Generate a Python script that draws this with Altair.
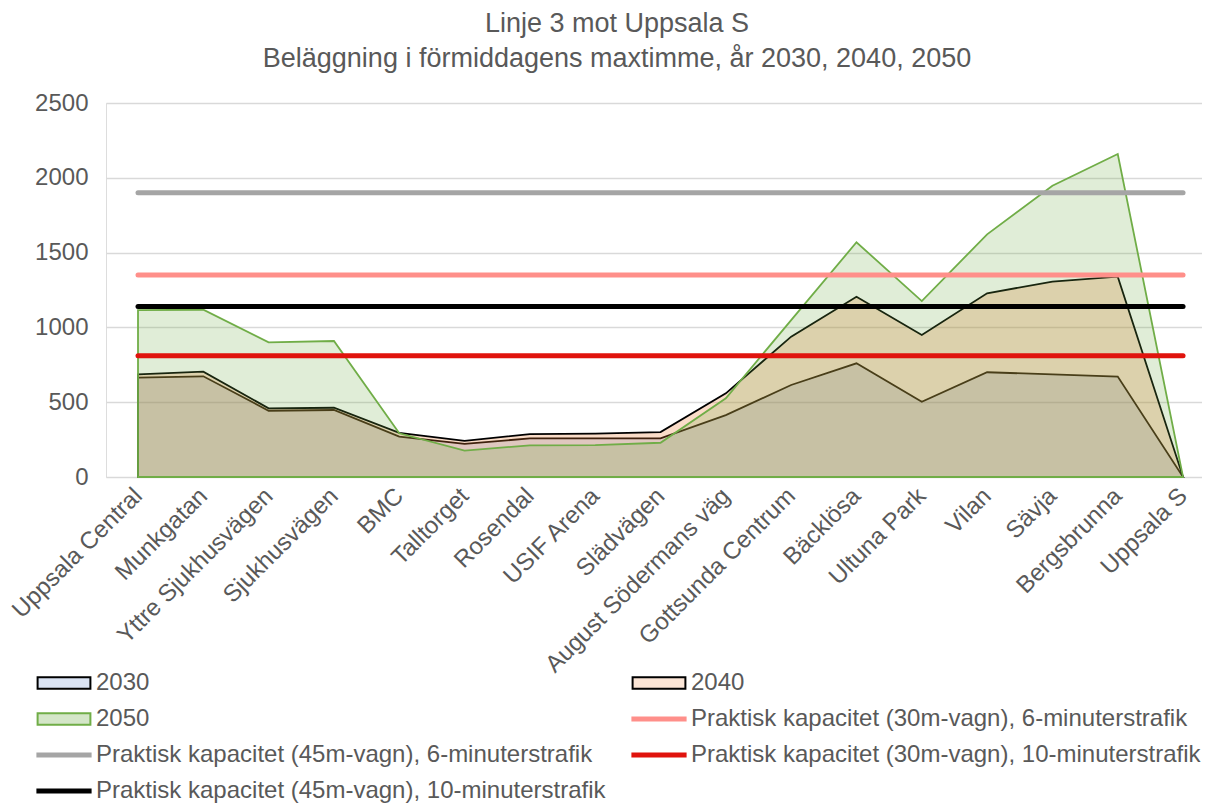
import json
import altair as alt
import pandas as pd

stops = ["Uppsala Central", "Munkgatan", "Yttre Sjukhusvägen", "Sjukhusvägen", "BMC",
         "Talltorget", "Rosendal", "USIF Arena", "Slädvägen", "August Södermans väg",
         "Gottsunda Centrum", "Bäcklösa", "Ultuna Park", "Vilan", "Sävja", "Bergsbrunna",
         "Uppsala S"]
years = ["2030", "2040", "2050"]
v2030 = [664, 673, 443, 448, 270, 221, 258, 258, 258, 414, 615, 760, 503, 700, 686, 671, 0]
v2040 = [686, 704, 459, 463, 295, 241, 287, 290, 300, 559, 938, 1205, 949, 1228, 1306, 1339, 0]
v2050 = [1115, 1118, 900, 909, 292, 176, 212, 213, 229, 526, 1049, 1569, 1176, 1622, 1947, 2159, 0]

cap_names = ["Praktisk kapacitet (30m-vagn), 6-minuterstrafik",
             "Praktisk kapacitet (45m-vagn), 6-minuterstrafik",
             "Praktisk kapacitet (30m-vagn), 10-minuterstrafik",
             "Praktisk kapacitet (45m-vagn), 10-minuterstrafik"]
cap_values = [1350, 1900, 810, 1140]

y_ticks = [0, 500, 1000, 1500, 2000, 2500]

rows = []
for year, vals in zip(years, [v2030, v2040, v2050]):
    for i, v in enumerate(vals):
        rows.append({"idx": i, "stop": stops[i], "series": year, "value": v})
area_df = pd.DataFrame(rows)
cap_df = pd.DataFrame({"series": cap_names, "value": cap_values,
                       "start": [0] * len(cap_names), "end": [len(stops) - 1] * len(cap_names)})

# legend is filled column by column: column 1 then column 2
domain = ["2030", "2050", cap_names[1], cap_names[3], "2040", cap_names[0], cap_names[2]]
style = {
    "2030": ("#4472C4", "#000000", 0.2),
    "2040": ("#ED7D31", "#000000", 0.2),
    "2050": ("#70AD47", "#70AD47", 0.3),
    cap_names[0]: ("#FFFFFF", "#FF8F8A", 0.0),
    cap_names[1]: ("#FFFFFF", "#A5A5A5", 0.0),
    cap_names[2]: ("#FFFFFF", "#E0130D", 0.0),
    cap_names[3]: ("#FFFFFF", "#000000", 0.0),
}


def over_white(hex_color, alpha):
    h = hex_color.lstrip("#")
    rgb = [int(h[i:i + 2], 16) for i in (0, 2, 4)]
    out = [round(255 + alpha * (c - 255)) for c in rgb]
    return "#" + "".join(f"{c:02X}" for c in out)


area_fill_range = [style[d][0] for d in domain]
stroke_range = [style[d][1] for d in domain]
opacity_range = [style[d][2] for d in domain]
swatch_range = [over_white(style[d][0], style[d][2]) if d in years else "transparent"
                for d in domain]

FONT = "Liberation Sans"
GREY = "#595959"

xscale = alt.Scale(domain=[-0.49, 16.29], nice=False, zero=False)
yscale = alt.Scale(domain=[0, 2500], nice=False)
label_expr = json.dumps(stops) + "[datum.value]"
xaxis = alt.Axis(values=list(range(len(stops))), labelExpr=label_expr, labelAngle=-45,
                 labelAlign="right", labelBaseline="middle",
                 grid=False, ticks=False, domain=False, title=None, labelFontSize=24,
                 labelColor=GREY, labelFont=FONT, labelPadding=15, labelOverlap=False,
                 labelFlush=False, labelLimit=1000)
yaxis = alt.Axis(values=y_ticks, format="d", grid=True, gridColor="#D9D9D9", gridWidth=1.3,
                 domain=False, ticks=False, title=None, labelFontSize=24, labelColor=GREY,
                 labelFont=FONT, labelPadding=18)

is_area = "indexof(" + json.dumps(years) + ", datum.value) >= 0"
legend = alt.Legend(
    title=None, orient="none", legendX=-54, legendY=568, columns=2, columnPadding=15,
    rowPadding=12, padding=0, symbolSize=576, labelFontSize=24, labelColor=GREY,
    labelFont=FONT, labelOffset=20, labelLimit=1000,
    symbolType={"expr": is_area + " ? 'M-2.2,-0.48H2.2V0.48H-2.2Z' : 'M-2.3,0H2.3'"},
    symbolStrokeWidth={"expr": is_area + " ? 2 : 5"},
)

swatch_scale = alt.Scale(domain=domain, range=swatch_range)
area_fill_scale = alt.Scale(domain=domain, range=area_fill_range)
stroke_scale = alt.Scale(domain=domain, range=stroke_range)
opacity_scale = alt.Scale(domain=domain, range=opacity_range)

# legend carrier: no rows are drawn, it only supplies the swatch colours of the legend
legend_layer = alt.Chart(area_df).transform_filter("false").mark_point(
    filled=True, opacity=1).encode(
    x=alt.X("idx:Q", scale=xscale, axis=xaxis),
    y=alt.Y("value:Q", scale=yscale, axis=yaxis),
    fill=alt.Fill("series:N", scale=swatch_scale, legend=legend),
    stroke=alt.Stroke("series:N", scale=stroke_scale, legend=legend),
)

# one area layer per year so that they are painted in the order 2030, 2040, 2050
area_layers = []
for year in years:
    area_layers.append(
        alt.Chart(area_df).transform_filter(alt.datum.series == year).mark_area(
            strokeWidth=1.8).encode(
            x=alt.X("idx:Q", scale=xscale, axis=xaxis),
            y=alt.Y("value:Q", stack=None, scale=yscale, axis=yaxis),
            color=alt.Color("series:N", scale=area_fill_scale, legend=None),
            fillOpacity=alt.FillOpacity("series:N", scale=opacity_scale, legend=None),
            stroke=alt.Stroke("series:N", scale=stroke_scale, legend=legend),
        )
    )

rules = alt.Chart(cap_df).mark_rule(strokeWidth=5, strokeCap="round").encode(
    x=alt.X("start:Q", scale=xscale, axis=xaxis),
    x2="end:Q",
    y=alt.Y("value:Q", scale=yscale, axis=yaxis),
    stroke=alt.Stroke("series:N", scale=stroke_scale, legend=legend),
)

chart = alt.layer(legend_layer, *area_layers, rules).properties(
    width=1096, height=374,
    padding={"left": 98, "top": 95, "right": 0, "bottom": 328},
    autosize=alt.AutoSizeParams(type="none"),
    title=alt.TitleParams(
        ["Linje 3 mot Uppsala S", "Beläggning i förmiddagens maxtimme, år 2030, 2040, 2050"],
        fontSize=27, font=FONT, fontWeight="normal", color=GREY, anchor="middle",
        offset=18, dx=-37, lineHeight=35),
).configure_view(strokeWidth=0).configure(font=FONT)

chart.save("out.html", embed_options={"renderer": "svg", "actions": False})
